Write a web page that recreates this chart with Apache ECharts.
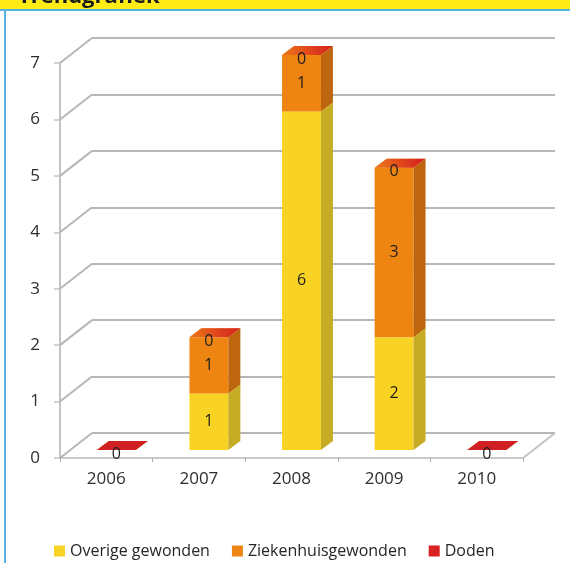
<!DOCTYPE html>
<html>
<head>
<meta charset="utf-8">
<style>
  html, body { margin: 0; padding: 0; background: #fff; }
  #chart { width: 570px; height: 563px; }
</style>
<script src="https://cdn.jsdelivr.net/npm/echarts@6/dist/echarts.min.js"></script>
</head>
<body>
<div id="chart"></div>
<script>
// Verkeersslachtoffers per jaar
const categories = ['2006', '2007', '2008', '2009', '2010'];
const overigeGewonden = [0, 1, 6, 2, 0];
const ziekenhuisGewonden = [0, 1, 1, 3, 0];
const doden = [0, 0, 0, 0, 0];
const yTicks = [0, 1, 2, 3, 4, 5, 6, 7];

const FONT = '"Open Sans", "DejaVu Sans", sans-serif';

// perspective offsets of the 3D box (wall depth and column depth)
const WALL_DX = 32, WALL_DY = -25;
const BAR_FX = 10, BAR_FY = -8;
const BAR_DX = 12, BAR_DY = -9;

const seriesDefs = [
  { name: 'Overige gewonden', values: overigeGewonden, front: '#f8d323', side: '#c6ac24', top: '#fbe463', labelMode: 'mid' },
  { name: 'Ziekenhuisgewonden', values: ziekenhuisGewonden, front: '#ee8512', side: '#bd660f', top: '#f4a24a', labelMode: 'mid' },
  { name: 'Doden', values: doden, front: '#d9211f', side: '#a8191a', top: '#cf1f22', labelMode: 'top' }
];

// stack the series: each item is [category, base, top, value]
const running = categories.map(() => 0);
const stacked = seriesDefs.map(def => def.values.map((v, i) => {
  const base = running[i];
  running[i] += v;
  return [i, base, base + v, v];
}));

function boxRenderer(def) {
  return function (params, api) {
    const cat = api.value(0), base = api.value(1), top = api.value(2), val = api.value(3);
    const band = api.size([1, 0])[0];
    const w = band * 0.42;
    const cx = api.coord([cat, 0])[0] + BAR_FX;
    const yb = api.coord([cat, base])[1] + BAR_FY;
    const yt = api.coord([cat, top])[1] + BAR_FY;
    const xl = cx - w / 2, xr = cx + w / 2;
    const children = [];
    if (yb - yt > 0.1) {
      children.push({ type: 'rect', shape: { x: xl, y: yt, width: w, height: yb - yt }, style: { fill: def.front } });
      children.push({ type: 'polygon', shape: { points: [[xr, yb], [xr + BAR_DX, yb + BAR_DY], [xr + BAR_DX, yt + BAR_DY], [xr, yt]] }, style: { fill: def.side } });
    }
    let topFill = def.top;
    if (def.labelMode === 'top' && base > 0) {
      topFill = new echarts.graphic.LinearGradient(0, 1, 1, 0, [
        { offset: 0, color: '#ec7a18' },
        { offset: 0.55, color: '#e0441c' },
        { offset: 1, color: '#d21f1f' }
      ]);
    }
    children.push({ type: 'polygon', shape: { points: [[xl, yt], [xr, yt], [xr + BAR_DX, yt + BAR_DY], [xl + BAR_DX, yt + BAR_DY]] }, style: { fill: topFill } });
    let ly = null;
    if (def.labelMode === 'top') ly = yt + 4;
    else if (val > 0) ly = (yt + yb) / 2;
    if (ly !== null) {
      children.push({
        type: 'text',
        style: { x: cx, y: ly, text: String(val), fill: '#1e1e1e', font: '16px ' + FONT, align: 'center', verticalAlign: 'middle' },
        z2: 10
      });
    }
    return { type: 'group', children: children };
  };
}

// diagonal edges that join the front axis to the back wall
function wallRenderer(params, api) {
  const cs = params.coordSys;
  const v = api.value(1);
  const y = api.coord([0, v])[1];
  const lineStyle = { stroke: '#b7b7b7', lineWidth: 2 };
  const children = [{ type: 'line', shape: { x1: cs.x, y1: y, x2: cs.x + WALL_DX, y2: y + WALL_DY }, style: lineStyle }];
  if (v === 0) {
    children.push({ type: 'line', shape: { x1: cs.x + cs.width, y1: y, x2: cs.x + cs.width + WALL_DX, y2: y + WALL_DY }, style: { stroke: '#c4c4c4', lineWidth: 2 } });
  }
  return { type: 'group', children: children };
}

const chart = echarts.init(document.getElementById('chart'), null, { renderer: 'canvas' });

const option = {
  animation: false,
  backgroundColor: '#ffffff',
  textStyle: { fontFamily: FONT },
  graphic: [
    { type: 'rect', shape: { x: 0, y: 0, width: 570, height: 9 }, style: { fill: '#ffec17' }, z: 100 },
    { type: 'text', style: { x: 18, y: 8, text: 'Trendgrafiek', font: 'bold 22px ' + FONT, fill: '#1a1a1a', verticalAlign: 'bottom' }, z: 101 },
    { type: 'rect', shape: { x: 0, y: 9, width: 570, height: 2 }, style: { fill: '#55b2dc' }, z: 100 },
    { type: 'rect', shape: { x: 4, y: 9, width: 2, height: 554 }, style: { fill: '#55b2dc' }, z: 100 }
  ],
  grid: [
    { left: 60 + WALL_DX, top: 63 + WALL_DY, width: 463, height: 395 },
    { left: 60, top: 63, width: 463, height: 395 }
  ],
  xAxis: [
    { gridIndex: 0, type: 'category', data: categories, show: false },
    {
      gridIndex: 1, type: 'category', data: categories,
      axisLine: { lineStyle: { color: '#c9c9c9', width: 2 } },
      axisTick: { show: true, length: 4, lineStyle: { color: '#b0b0b0', width: 1 } },
      axisLabel: { color: '#2e2e2e', fontSize: 17, margin: 13, fontFamily: FONT }
    }
  ],
  yAxis: [
    {
      gridIndex: 0, type: 'value', min: 0, max: 7, interval: 1,
      axisLine: { show: false }, axisTick: { show: false }, axisLabel: { show: false },
      splitLine: { show: true, lineStyle: { color: '#b7b7b7', width: 2 } }
    },
    {
      gridIndex: 1, type: 'value', min: 0, max: 7, interval: 1,
      axisLine: { show: true, lineStyle: { color: '#c3c3c3', width: 2 } },
      axisTick: { show: true, length: 6, lineStyle: { color: '#c3c3c3', width: 1.5 } },
      axisLabel: { color: '#2e2e2e', fontSize: 17, margin: 20, fontFamily: FONT },
      splitLine: { show: false }
    }
  ],
  legend: {
    left: 49, top: 538,
    icon: 'rect', itemWidth: 11, itemHeight: 11, itemGap: 22,
    textStyle: { color: '#262626', fontSize: 16, fontFamily: FONT },
    data: seriesDefs.map(d => d.name),
    selectedMode: false
  },
  series: [
    {
      type: 'custom', name: 'wall', xAxisIndex: 1, yAxisIndex: 1, silent: true, z: 1,
      data: yTicks.map(v => [0, v]),
      encode: { x: 0, y: 1 },
      renderItem: wallRenderer
    }
  ].concat(seriesDefs.map((def, k) => ({
    type: 'custom', name: def.name, xAxisIndex: 1, yAxisIndex: 1, z: 3 + k,
    itemStyle: { color: def.front },
    data: stacked[k],
    encode: { x: 0, y: 2 },
    renderItem: boxRenderer(def)
  })))
};

chart.setOption(option);
</script>
</body>
</html>
